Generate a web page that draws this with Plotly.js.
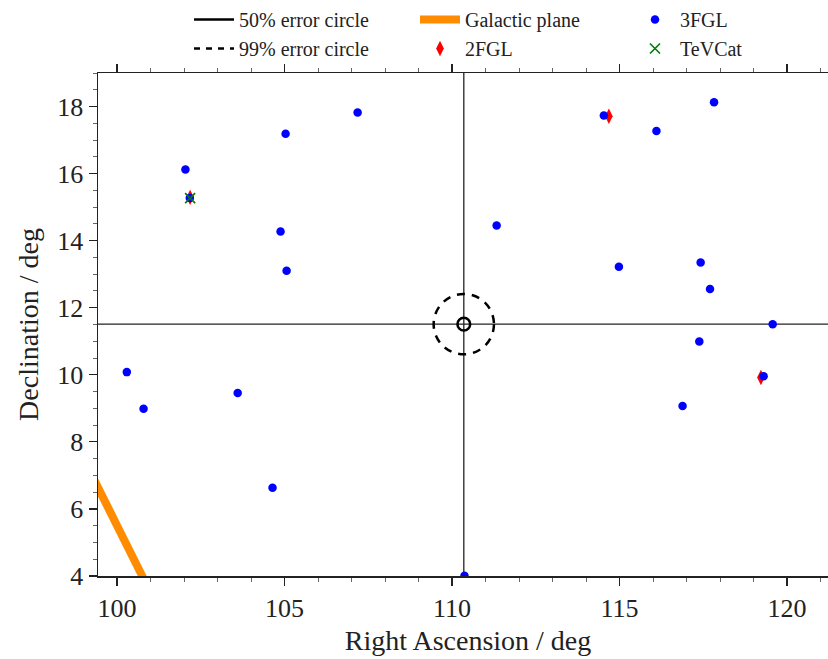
<!DOCTYPE html>
<html>
<head>
<meta charset="utf-8">
<script src="https://cdn.plot.ly/plotly-3.0.1.min.js"></script>
<style>html,body{margin:0;padding:0;background:#fff;overflow:hidden;width:828px;height:659px;}#chart{width:838px;height:659px;}</style>
</head>
<body>
<div id="chart"></div>
<script>
// ---- data (degrees) ----
const fgl3RA  = [102.04, 102.17, 105.03, 107.18, 104.88, 105.06, 100.29, 100.79, 103.60, 104.64, 110.37, 111.33,
                 114.53, 117.82, 116.10, 114.98, 117.42, 117.70, 119.57, 117.38, 119.30, 116.88];
const fgl3Dec = [16.12, 15.27, 17.19, 17.82, 14.27, 13.10, 10.08, 8.99, 9.46, 6.63, 4.01, 14.45,
                 17.73, 18.13, 17.27, 13.22, 13.35, 12.56, 11.51, 10.99, 9.96, 9.07];
const fgl2RA  = [102.18, 114.68, 119.22];
const fgl2Dec = [15.29, 17.71, 9.92];
const tevRA   = [102.18];
const tevDec  = [15.27];
const galRA   = [99.0, 101.0];
const galDec  = [7.5, 3.5];
const srcRA   = 110.35;
const srcDec  = 11.51;
const r50     = 0.19;
const r99     = 0.90;
const xTicks  = [100, 105, 110, 115, 120];
const yTicks  = [4, 6, 8, 10, 12, 14, 16, 18];

const FONT = 'Liberation Serif, Times New Roman, serif';
const AX = '#222';

const traces = [
  {x:[null], y:[null], mode:'lines', name:'50% error circle', line:{color:'black', width:2.5},
   legend:'legend', hoverinfo:'skip'},
  {x:[null], y:[null], mode:'lines', name:'99% error circle', line:{color:'black', width:2.5, dash:'6px,6px'},
   legend:'legend', hoverinfo:'skip'},
  {x:galRA, y:galDec, mode:'lines', name:'Galactic plane', line:{color:'#ff8c00', width:8},
   legend:'legend2'},
  {x:fgl2RA, y:fgl2Dec, mode:'markers', name:'2FGL',
   marker:{symbol:'diamond-tall', color:'#ff0000', size:11, line:{width:0}}, legend:'legend2'},
  {x:fgl3RA, y:fgl3Dec, mode:'markers', name:'3FGL',
   marker:{symbol:'circle', color:'#0000ff', size:8.5, line:{width:0}}, legend:'legend3'},
  {x:tevRA, y:tevDec, mode:'markers', name:'TeVCat',
   marker:{symbol:'x-thin-open', color:'#007a00', size:10, line:{width:1.6, color:'#007a00'}}, legend:'legend3'}
];

const PW = 740;
const legBase = {orientation:'v', bgcolor:'rgba(0,0,0,0)', borderwidth:0, font:{family:FONT, size:20, color:'#222'},
                 yref:'container', y:1.008, yanchor:'top', xanchor:'left', tracegroupgap:0, itemclick:false,
                 itemwidth:40};

const layout = {
  width:838, height:659,
  margin:{l:98, r:0, t:73, b:83},
  paper_bgcolor:'#fff', plot_bgcolor:'#fff',
  font:{family:FONT, color:AX},
  showlegend:true,
  legend: Object.assign({}, legBase, {x:(189-98)/PW}),
  legend2: Object.assign({}, legBase, {x:(415-98)/PW}),
  legend3: Object.assign({}, legBase, {x:(630-98)/PW}),
  xaxis:{
    range:[99.43, 121.52], tickvals:xTicks, ticktext:xTicks.map(String),
    showgrid:false, zeroline:false, showline:true, linecolor:AX, linewidth:1.5,
    mirror:'allticks', ticks:'outside', ticklen:8, tickwidth:1.2, tickcolor:AX,
    minor:{dtick:1, tick0:0, ticks:'outside', ticklen:4, tickwidth:1, tickcolor:'#666', showgrid:false},
    tickfont:{family:FONT, size:26, color:AX},
    title:{text:'Right Ascension / deg', font:{family:FONT, size:28, color:AX}, standoff:8},
    fixedrange:true
  },
  yaxis:{
    range:[4, 19], tickvals:yTicks, ticktext:yTicks.map(String),
    showgrid:false, zeroline:false, showline:true, linecolor:AX, linewidth:1.5,
    mirror:false, ticks:'outside', ticklen:8, tickwidth:1.2, tickcolor:AX,
    minor:{dtick:0.5, tick0:0, ticks:'outside', ticklen:4, tickwidth:1, tickcolor:'#666', showgrid:false},
    tickfont:{family:FONT, size:26, color:AX},
    title:{text:'Declination / deg', font:{family:FONT, size:28, color:AX}, standoff:10},
    fixedrange:true
  },
  shapes:[
    {type:'line', xref:'x', yref:'paper', x0:srcRA, x1:srcRA, y0:0, y1:1, line:{color:'#222', width:1.3}, layer:'below'},
    {type:'line', xref:'paper', yref:'y', x0:0, x1:1, y0:srcDec, y1:srcDec, line:{color:'#222', width:1.3}, layer:'below'},
    {type:'circle', xref:'x', yref:'y', x0:srcRA-r50, x1:srcRA+r50, y0:srcDec-r50, y1:srcDec+r50,
     line:{color:'black', width:2.5}, layer:'above'},
    {type:'circle', xref:'x', yref:'y', x0:srcRA-r99, x1:srcRA+r99, y0:srcDec-r99, y1:srcDec+r99,
     line:{color:'black', width:2.5, dash:'8px,7px'}, layer:'above'}
  ]
};

Plotly.newPlot('chart', traces, layout, {displayModeBar:false, staticPlot:true});
</script>
</body>
</html>
